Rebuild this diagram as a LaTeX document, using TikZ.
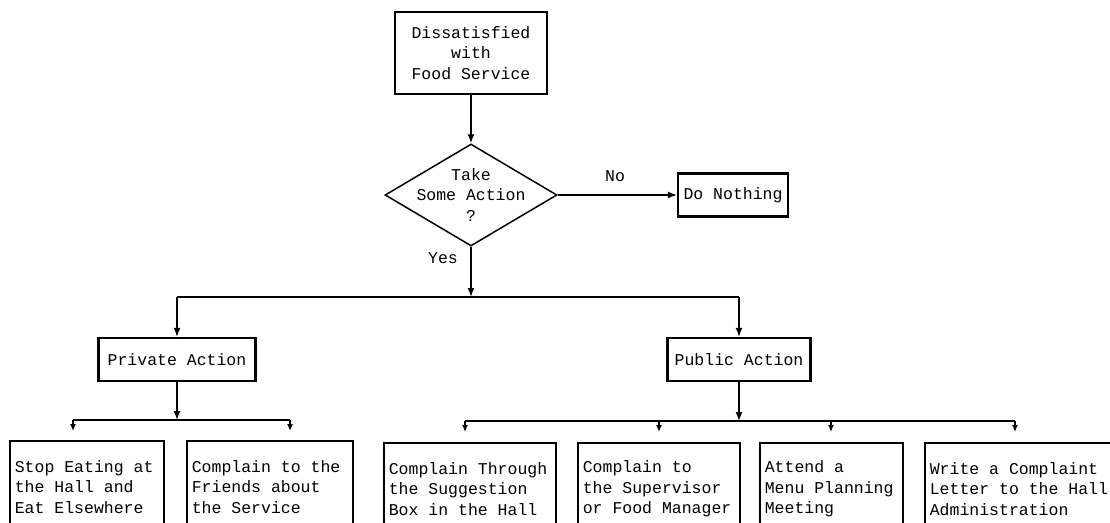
\documentclass[tikz,border=0pt]{standalone}
\usepackage{fontspec}
\newfontfamily\flowfont{Liberation Mono}
\newcommand\flowtype{\flowfont\fontsize{16.5}{20.5}\selectfont}
\newcommand\monospace{\spaceskip 0.6em\relax\xspaceskip 0.6em\relax}
\usetikzlibrary{shapes.geometric,arrows.meta}

\tikzset{
  flow/.style={font=\flowtype},
  box/.style={flow,draw,line width=2.2pt,align=center,inner sep=0pt},
  leaf/.style={flow,draw,line width=1.6pt,anchor=north west,align=flush left,
    execute at begin node=\monospace,
    inner xsep=5pt,inner ysep=0pt,minimum height=92pt},
  decision/.style={draw,diamond,line width=1.5pt,inner sep=0pt,
    minimum width=172pt,minimum height=102pt},
  link/.style={line width=1.4pt}
}

\begin{document}
\begin{tikzpicture}[x=1pt,y=-1pt]
    \useasboundingbox (0,0) rectangle (1110,522);

    % Kotak awal dan keputusan
    \node[box,minimum width=152pt,minimum height=82pt] (dis) at (471,53) {Dissatisfied\\with\\Food Service};
    \node[decision,label={[flow,align=center]center:Take\\Some Action\\?}] (take) at (471,195) {};
    \node[box,minimum width=110pt,minimum height=43pt] (nothing) at (733,195) {Do Nothing};
    \node[flow] (nolbl) at (615,176) {No};
    \node[flow] (yeslbl) at (443,258) {Yes};

    \draw[link,-{Latex[length=9pt,width=7pt]}] (dis) -- (take);
    \draw[link,-{Latex[length=9pt,width=7pt]}] (take) -- (nothing);

    % Cabang Yes
    \coordinate (split) at (471,297);
    \coordinate (splitL) at (177,297);
    \coordinate (splitR) at (739,297);
    \draw[link,-{Latex[length=9pt,width=7pt]}] (take) -- (split);
    \draw[link] (splitL) -- (splitR);

    \node[box,minimum width=157pt,minimum height=43pt] (priv) at (177,359.5) {Private Action};
    \node[box,minimum width=143pt,minimum height=43pt] (pub) at (739,359.5) {Public Action};
    \draw[link,-{Latex[length=9pt,width=7pt]}] (splitL) -- (priv);
    \draw[link,-{Latex[length=9pt,width=7pt]}] (splitR) -- (pub);

    % Tindakan pribadi
    \node[leaf,text width=144pt] (stop) at (9,440) {Stop Eating at\\the Hall and\\Eat Elsewhere};
    \node[leaf,text width=156pt] (friends) at (186,440) {Complain to the\\Friends about\\the Service};
    \coordinate (privbar) at (177,420);
    \coordinate (pl) at (73,420);
    \coordinate (pr) at (290,420);
    \draw[link,-{Latex[length=9pt,width=7pt]}] (priv) -- (privbar);
    \draw[link] (pl) -- (pr);
    \draw[link,-{Latex[length=7pt,width=6pt]},shorten >=9pt] (pl) -- (pl |- stop.north);
    \draw[link,-{Latex[length=7pt,width=6pt]},shorten >=9pt] (pr) -- (pr |- friends.north);

    % Tindakan publik
    \node[leaf,text width=162pt] (sugg) at (383,442) {Complain Through\\the Suggestion\\Box in the Hall};
    \node[leaf,text width=152pt] (super) at (577,442) {Complain to\\the Supervisor\\or Food Manager};
    \node[leaf,text width=133pt] (menu) at (759,442) {Attend a\\Menu Planning\\Meeting};
    \node[leaf,text width=190pt] (letter) at (924,442) {Write a Complaint\\Letter to the Hall\\Administration};
    \coordinate (pubbar) at (739,421);
    \coordinate (q1) at (465,421);
    \coordinate (q2) at (659,421);
    \coordinate (q3) at (831,421);
    \coordinate (q4) at (1015,421);
    \draw[link,-{Latex[length=9pt,width=7pt]}] (pub) -- (pubbar);
    \draw[link] (q1) -- (q4);
    \draw[link,-{Latex[length=7pt,width=6pt]},shorten >=10pt] (q1) -- (q1 |- sugg.north);
    \draw[link,-{Latex[length=7pt,width=6pt]},shorten >=10pt] (q2) -- (q2 |- super.north);
    \draw[link,-{Latex[length=7pt,width=6pt]},shorten >=10pt] (q3) -- (q3 |- menu.north);
    \draw[link,-{Latex[length=7pt,width=6pt]},shorten >=10pt] (q4) -- (q4 |- letter.north);

\end{tikzpicture}
\end{document}
